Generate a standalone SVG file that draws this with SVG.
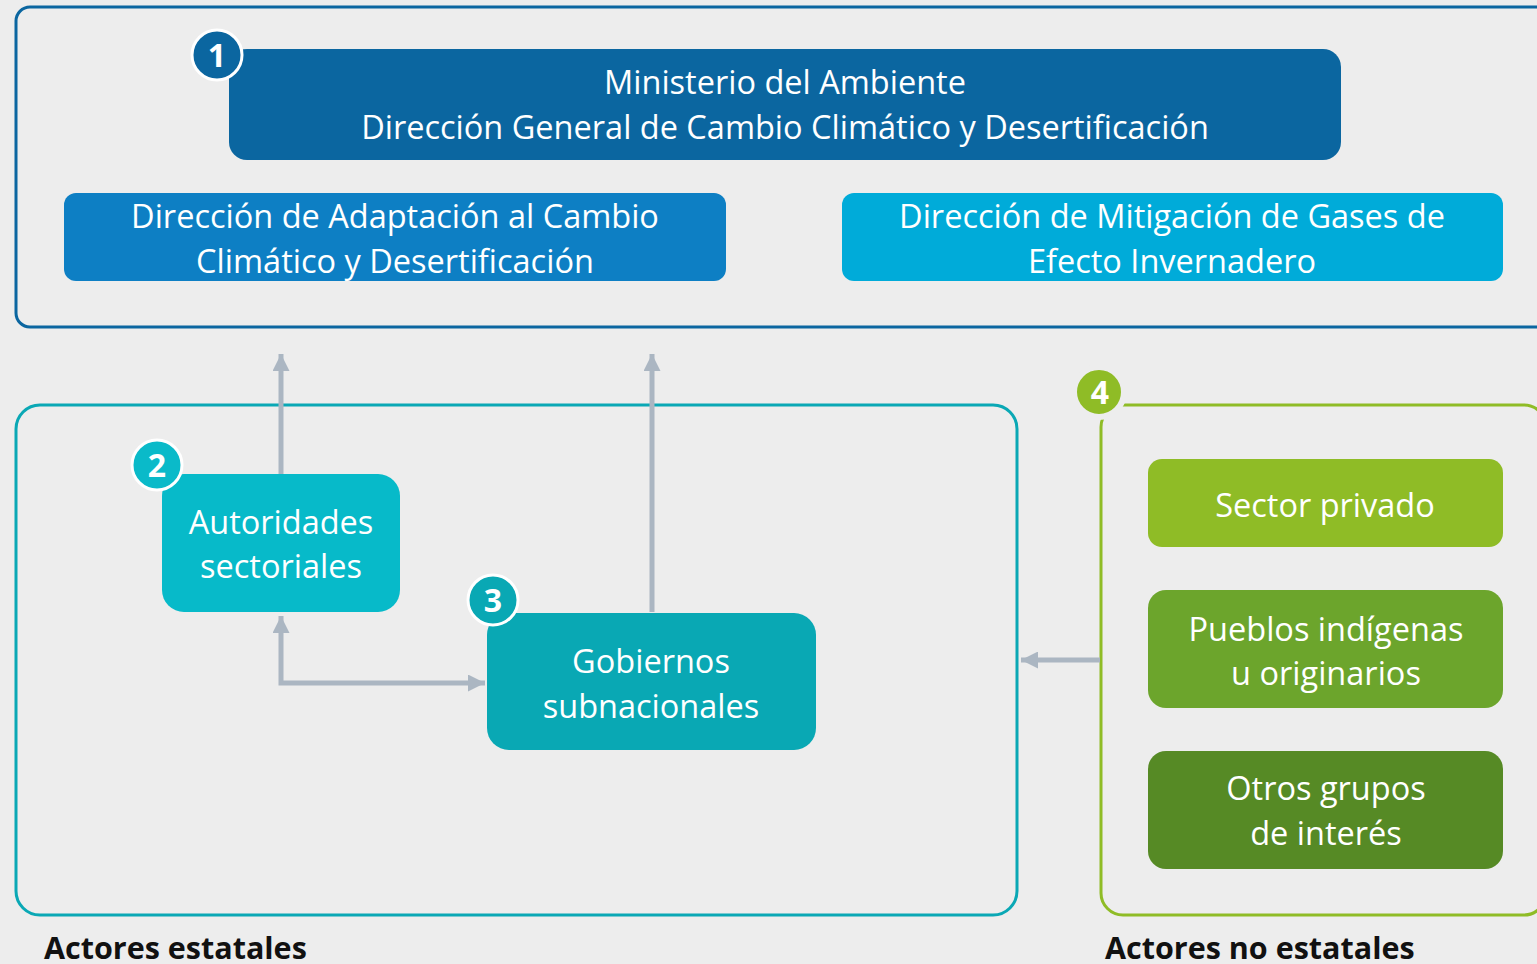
<svg xmlns="http://www.w3.org/2000/svg" width="1537" height="964" viewBox="0 0 1537 964">
<defs>
<marker id="ah" viewBox="0 0 10 10" refX="10" refY="5" markerWidth="3.4" markerHeight="3.4" markerUnits="strokeWidth" orient="auto-start-reverse">
<path d="M0,0 L10,5 L0,10 Z" fill="#abb6c2"/>
</marker>
</defs>
<style>
.t{font-family:"Open Sans","Liberation Sans",sans-serif;fill:#ffffff;text-anchor:middle;font-size:32.5px}
.n{font-family:"Open Sans","Liberation Sans",sans-serif;fill:#ffffff;text-anchor:middle;font-size:32px;font-weight:bold}
.lbl{font-family:"Open Sans","Liberation Sans",sans-serif;fill:#111111;font-size:30.5px;font-weight:bold}
.con{fill:none;stroke:#abb6c2;stroke-width:5}
</style>
<rect x="0" y="0" width="1537" height="964" fill="#ededed"/>
<g id="frames">
<rect x="16" y="7" width="1540" height="320" rx="14" fill="none" stroke="#0b66a0" stroke-width="3"/>
<rect x="16" y="405" width="1001" height="510" rx="24" fill="none" stroke="#0aa8b5" stroke-width="3"/>
<rect x="1101" y="405" width="445" height="510" rx="22" fill="none" stroke="#8fbc26" stroke-width="3"/>
</g>
<g id="connectors">
<path class="con" d="M281,474 V354" marker-end="url(#ah)"/>
<path class="con" d="M652,612 V354" marker-end="url(#ah)"/>
<path class="con" d="M281,616 V683 H485" marker-start="url(#ah)" marker-end="url(#ah)"/>
<path class="con" d="M1100,660 H1021" marker-end="url(#ah)"/>
</g>
<g id="node1">
<rect x="229" y="49" width="1112" height="111" rx="18" fill="#0b66a0"/>
<text class="t" x="785" y="94">Ministerio del Ambiente</text>
<text class="t" x="785" y="139">Dirección General de Cambio Climático y Desertificación</text>
<circle cx="217" cy="55" r="25" fill="#0b66a0" stroke="#ffffff" stroke-width="3"/>
<text class="n" x="217" y="67">1</text>
</g>
<g id="adaptacion">
<rect x="64" y="193" width="662" height="88" rx="12" fill="#0d7fc4"/>
<text class="t" x="395" y="228">Dirección de Adaptación al Cambio</text>
<text class="t" x="395" y="273">Climático y Desertificación</text>
</g>
<g id="mitigacion">
<rect x="842" y="193" width="661" height="88" rx="12" fill="#00abd9"/>
<text class="t" x="1172" y="228">Dirección de Mitigación de Gases de</text>
<text class="t" x="1172" y="273">Efecto Invernadero</text>
</g>
<g id="autoridades">
<rect x="162" y="474" width="238" height="138" rx="22" fill="#07bac9"/>
<text class="t" x="281" y="534">Autoridades</text>
<text class="t" x="281" y="578">sectoriales</text>
<circle cx="157" cy="465" r="25" fill="#0abac9" stroke="#ffffff" stroke-width="3"/>
<text class="n" x="157" y="477">2</text>
</g>
<g id="gobiernos">
<rect x="487" y="613" width="329" height="137" rx="22" fill="#09a8b4"/>
<text class="t" x="651" y="673">Gobiernos</text>
<text class="t" x="651" y="718">subnacionales</text>
<circle cx="493" cy="600" r="25" fill="#09a8b4" stroke="#ffffff" stroke-width="3"/>
<text class="n" x="493" y="612">3</text>
</g>
<g id="badge4">
<circle cx="1099" cy="392" r="25" fill="#8fbc26" stroke="#ededed" stroke-width="6"/>
<text class="n" x="1100" y="404">4</text>
</g>
<g id="privado">
<rect x="1148" y="459" width="355" height="88" rx="14" fill="#8fbc26"/>
<text class="t" x="1325" y="517">Sector privado</text>
</g>
<g id="pueblos">
<rect x="1148" y="590" width="355" height="118" rx="18" fill="#6ca52c"/>
<text class="t" x="1326" y="641">Pueblos indígenas</text>
<text class="t" x="1326" y="685">u originarios</text>
</g>
<g id="otros">
<rect x="1148" y="751" width="355" height="118" rx="18" fill="#568a25"/>
<text class="t" x="1326" y="800">Otros grupos</text>
<text class="t" x="1326" y="845">de interés</text>
</g>
<g id="labels">
<text class="lbl" x="44" y="959">Actores estatales</text>
<text class="lbl" x="1105" y="959">Actores no estatales</text>
</g>
</svg>
